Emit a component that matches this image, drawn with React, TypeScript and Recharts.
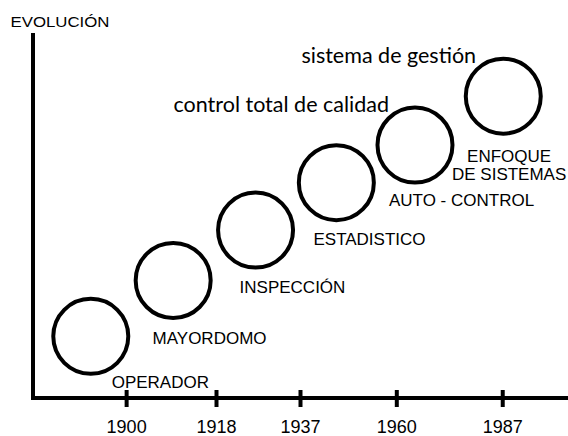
import React from 'react';
import { ScatterChart, Scatter, XAxis, YAxis, Label } from 'recharts';

// x-axis milestones (position on the axis, 0-100) and their year labels
const tickPos = [17.5, 34.3, 50.0, 68.0, 87.8];
const tickYears = ['1900', '1918', '1937', '1960', '1987'];

// circle centres, one per stage
const stageX = [10.8, 26.2, 41.6, 56.7, 71.4, 87.9];
const stageY = [16.9, 32.2, 46.0, 59.0, 69.3, 82.7];

// stage names under each circle
const labelText = ['OPERADOR', 'MAYORDOMO', 'INSPECCIÓN', 'ESTADISTICO', 'AUTO - CONTROL', 'ENFOQUE\nDE SISTEMAS'];
const labelX = [23.8, 33.0, 48.5, 62.9, 80.1, 89.0];
const labelY = [4.4, 16.4, 30.4, 43.6, 54.2, 63.8];

// lowercase notes at the top
const noteText = ['control total de calidad', 'sistema de gestión'];
const noteX = [46.4, 66.5];
const noteY = [80.6, 94.0];

const stages = stageX.map((x, i) => ({ x, y: stageY[i] }));
const labels = labelText.map((text, i) => ({ x: labelX[i], y: labelY[i], text }));
const notes = noteText.map((text, i) => ({ x: noteX[i], y: noteY[i], text }));

const SANS = '"Liberation Sans", Arial, sans-serif';

const YearTick = (props: any) => {
  const { x, y, payload } = props;
  const idx = tickPos.indexOf(payload.value);
  return (
    <g>
      <line x1={x} x2={x} y1={y - 8} y2={y + 9} stroke="#000" strokeWidth={4} />
      <text x={x} y={y + 29} textAnchor="middle" dominantBaseline="central" fontFamily={SANS} fontSize={18} fill="#000">
        {tickYears[idx]}
      </text>
    </g>
  );
};

const renderCircle = (props: any) => (
  <circle cx={props.cx} cy={props.cy} r={37.5} fill="none" stroke="#000" strokeWidth={4} />
);

const renderLabel = (props: any) => {
  const lines: string[] = props.payload.text.split('\n');
  const lh = 18;
  const y0 = props.cy - ((lines.length - 1) * lh) / 2;
  return (
    <text textAnchor="middle" dominantBaseline="central" fontFamily={SANS} fontSize={17} fill="#000">
      {lines.map((l, i) => (
        <tspan key={i} x={props.cx} y={y0 + i * lh}>{l}</tspan>
      ))}
    </text>
  );
};

const renderNote = (props: any) => (
  <text x={props.cx} y={props.cy} textAnchor="middle" dominantBaseline="central" fontFamily="Lato, sans-serif" fontSize={21.5} fill="#000">
    {props.payload.text}
  </text>
);

export default function App() {
  return (
    <div style={{ position: 'absolute', left: 0, top: 0, background: '#fff' }}>
      <ScatterChart width={568} height={436} margin={{ top: 33, right: 0, bottom: 0, left: 0 }}>
        <XAxis
          type="number"
          dataKey="x"
          domain={[0, 100]}
          ticks={tickPos}
          interval={0}
          height={38}
          axisLine={{ stroke: '#000', strokeWidth: 4, strokeLinecap: 'square' }}
          tickLine={false}
          tickSize={0}
          tickMargin={0}
          tick={<YearTick />}
        />
        <YAxis
          type="number"
          dataKey="y"
          domain={[0, 100]}
          width={33}
          axisLine={{ stroke: '#000', strokeWidth: 4 }}
          tick={false}
          tickLine={false}
        >
          <Label
            content={(p: any) => (
              <text
                x={p.viewBox.x + p.viewBox.width + 27}
                y={p.viewBox.y - 12}
                textAnchor="middle"
                dominantBaseline="central"
                fontFamily={SANS}
                fontSize={15}
                textLength={99}
                lengthAdjust="spacingAndGlyphs"
                fill="#000"
              >
                EVOLUCIÓN
              </text>
            )}
          />
        </YAxis>
        <Scatter data={stages} shape={renderCircle} isAnimationActive={false} />
        <Scatter data={labels} shape={renderLabel} isAnimationActive={false} />
        <Scatter data={notes} shape={renderNote} isAnimationActive={false} />
      </ScatterChart>
    </div>
  );
}
